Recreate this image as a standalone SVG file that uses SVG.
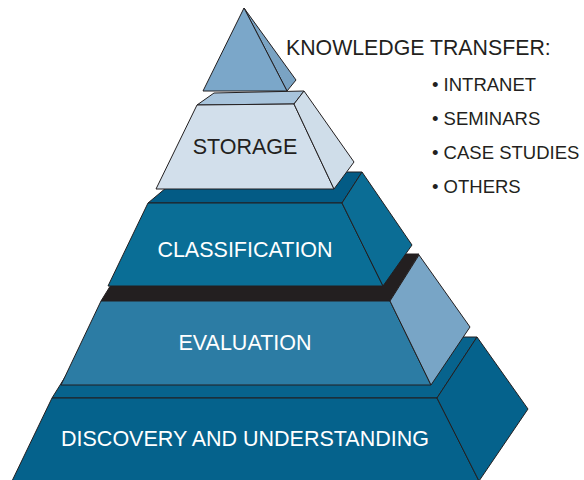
<svg xmlns="http://www.w3.org/2000/svg" width="584" height="480" viewBox="0 0 584 480">
<style>
  .e { stroke: #231f20; stroke-width: 1; stroke-linejoin: round; }
  .lbl { font-family: "Liberation Sans", Arial, sans-serif; font-size: 21.5px; text-anchor: middle; }
  .side { font-family: "Liberation Sans", Arial, sans-serif; fill: #231f20; }
</style>
<rect width="584" height="480" fill="#ffffff"/>
<g id="discovery">
  <polygon class="e" points="52,398 90,337 477,337 437,398" fill="#07638d"/>
  <polygon class="e" points="52,398 437,398 479,481 12,481" fill="#05628c"/>
  <polygon class="e" points="437,398 477,337 528,409 479,481" fill="#05628c"/>
  <text class="lbl" x="245" y="446" fill="#ffffff">DISCOVERY AND UNDERSTANDING</text>
</g>
<g id="evaluation">
  <polygon class="e" points="101,301 130,254 419,254 390,301" fill="#231f20"/>
  <polygon class="e" points="101,301 390,301 431,385 61,385" fill="#2c7ca4"/>
  <polygon class="e" points="390,301 419,255 470,327 431,385" fill="#78a5c6"/>
  <text class="lbl" x="245" y="350" fill="#ffffff">EVALUATION</text>
</g>
<g id="classification">
  <polygon class="e" points="148,203 185,172 362,172 342,203" fill="#035b85"/>
  <polygon class="e" points="148,203 342,203 383,286 108,286" fill="#0a6e96"/>
  <polygon class="e" points="342,203 362,172 412,245 383,286" fill="#0b6d95"/>
  <text class="lbl" x="245" y="257" fill="#ffffff">CLASSIFICATION</text>
</g>
<g id="storage">
  <polygon class="e" points="197,105 214,93 304,91 294,104" fill="#a8c4dc"/>
  <polygon class="e" points="197,105 294,104 334,189 156,189" fill="#d2dfeb"/>
  <polygon class="e" points="294,104 304,91 354,162 334,189" fill="#cfdde9"/>
  <text class="lbl" x="245" y="154" fill="#231f20">STORAGE</text>
</g>
<g id="apex">
  <polygon class="e" points="244,8 296,80 287,91" fill="#7aa3c3"/>
  <polygon class="e" points="244,8 287,91 203,91" fill="#7ba7c9"/>
</g>
<g id="knowledge-transfer">
  <text class="side" x="286" y="55" font-size="21.3">KNOWLEDGE TRANSFER:</text>
  <text class="side" x="432" y="91" font-size="18.5">• INTRANET</text>
  <text class="side" x="432" y="125" font-size="18.5">• SEMINARS</text>
  <text class="side" x="432" y="159" font-size="18.5">• CASE STUDIES</text>
  <text class="side" x="432" y="193" font-size="18.5">• OTHERS</text>
</g>
</svg>
